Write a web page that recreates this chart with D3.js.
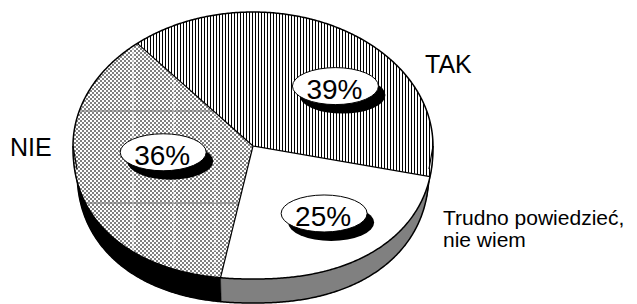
<!DOCTYPE html>
<html><head><meta charset="utf-8">
<script src="https://cdn.jsdelivr.net/npm/d3@7"></script>
<style>body{margin:0;background:#fff}svg{display:block}text{font-family:"Liberation Sans",Arial,sans-serif;fill:#000}</style>
</head><body>
<svg id="c" width="637" height="304"></svg>
<script>
// ---- data ----
const categories = ["TAK", "Trudno powiedzieć, nie wiem", "NIE"];
const values = [39, 25, 36];
const valueLabels = ["39%", "25%", "36%"];

// ---- layout / style ----
const W = 637, H = 304;
const cx = 253, cy = 146, rx = 180, ryTop = 134, ryBot = 133, nExp = 2.25;
const bcx = 253, bcy = 169, brx = 176, bry = 134;
const fills = ["url(#vl)", "#ffffff", "url(#chk)"];
const sideFills = ["#000000", "#808080", "#000000"];
const labelAdj = [{da: 15.5, r: 0.64}, {da: -5, r: 0.62}, {da: 11, r: 0.5}];
const deg = Math.PI / 180;

const svg = d3.select("#c");
const defs = svg.append("defs");
const p1 = defs.append("pattern").attr("id", "vl").attr("width", 3).attr("height", 3).attr("patternUnits", "userSpaceOnUse");
p1.append("rect").attr("width", 3).attr("height", 3).attr("fill", "#fff");
p1.append("rect").attr("width", 1).attr("height", 3).attr("fill", "#000");
const p2 = defs.append("pattern").attr("id", "chk").attr("width", 4).attr("height", 4).attr("patternUnits", "userSpaceOnUse");
p2.append("rect").attr("width", 4).attr("height", 4).attr("fill", "#fff");
p2.append("rect").attr("width", 2).attr("height", 2).attr("fill", "#808080");
p2.append("rect").attr("x", 2).attr("y", 2).attr("width", 2).attr("height", 2).attr("fill", "#808080");

function lowerY(c) { return Math.pow(Math.max(0, 1 - Math.pow(Math.abs(c), nExp)), 1 / nExp); }
function topPt(t, r = 1) {
  const c = Math.cos(t), s = Math.sin(t);
  const x = cx + r * rx * c;
  const y = s < 0 ? cy + r * ryTop * s : cy + r * ryBot * lowerY(c);
  return [x, y];
}
function botPt(t) {
  const c = Math.cos(t);
  return [bcx + brx * c, bcy + bry * lowerY(c)];
}
function samples(t1, t2) {
  const n = Math.max(2, Math.ceil(Math.abs(t2 - t1) / (0.5 * deg)));
  return d3.range(n + 1).map(i => t1 + (t2 - t1) * i / n);
}
const line = d3.line().curve(d3.curveLinear);

const pie = d3.pie().sort(null).value(d => d).startAngle(-40 * deg).endAngle(320 * deg);
const arcs = pie(values).map((a, i) => ({
  i, t1: a.startAngle - Math.PI / 2, t2: a.endAngle - Math.PI / 2, mid: (a.startAngle + a.endAngle) / 2 - Math.PI / 2
}));

// ---- sides ----
const gSide = svg.append("g");
arcs.forEach(a => {
  [[-2 * Math.PI, -Math.PI], [0, Math.PI], [2 * Math.PI, 3 * Math.PI]].forEach(([f1, f2]) => {
    const s = Math.max(a.t1, f1), e = Math.min(a.t2, f2);
    if (e > s) {
      const ts = samples(s, e);
      const pts = ts.map(t => topPt(t)).concat(ts.slice().reverse().map(t => botPt(t)));
      gSide.append("path").attr("d", line(pts) + "Z")
        .attr("fill", sideFills[a.i]).attr("stroke", sideFills[a.i]).attr("stroke-width", 0.5);
    }
  });
});
gSide.append("path").attr("d", line(samples(0, Math.PI).map(botPt)))
  .attr("fill", "none").attr("stroke", "#000").attr("stroke-width", 1.5);

// ---- top face slices ----
const gTop = svg.append("g");
arcs.forEach(a => {
  const pts = [[cx, cy]].concat(samples(a.t1, a.t2).map(t => topPt(t)));
  const d = line(pts) + "Z";
  gTop.append("clipPath").attr("id", "clip" + a.i).append("path").attr("d", d);
  gTop.append("path").attr("d", d).attr("fill", fills[a.i]).attr("stroke", "none");
});
const seams = svg.append("g").attr("clip-path", "url(#clip2)");
[cx - 120, cx - 79, cx - 38].forEach(x => {
  seams.append("line").attr("x1", x).attr("x2", x).attr("y1", 0).attr("y2", H)
    .attr("stroke", "#fff").attr("stroke-width", 1).attr("stroke-dasharray", "3,1");
});
[cy - 35, cy + 57].forEach(y => {
  seams.append("line").attr("x1", 0).attr("x2", W).attr("y1", y).attr("y2", y)
    .attr("stroke", "#666").attr("stroke-width", 1).attr("stroke-dasharray", "2,2");
});
const seams0 = svg.append("g").attr("clip-path", "url(#clip0)");
seams0.append("line").attr("x1", 0).attr("x2", W).attr("y1", cy - 35).attr("y2", cy - 35)
  .attr("stroke", "#000").attr("stroke-width", 1).attr("stroke-dasharray", "1,2");

const gLines = svg.append("g");
arcs.forEach(a => {
  gLines.append("path").attr("d", line([[cx, cy], topPt(a.t1)]))
    .attr("stroke", "#000").attr("stroke-width", 1.2).attr("fill", "none");
});
gLines.append("path").attr("d", line(samples(0, 2 * Math.PI).map(t => topPt(t))) + "Z")
  .attr("fill", "none").attr("stroke", "#000").attr("stroke-width", 1.5);
gLines.append("path").attr("d", line([topPt(0), botPt(0)])).attr("stroke", "#000").attr("stroke-width", 1.2);
gLines.append("path").attr("d", line([topPt(Math.PI), botPt(Math.PI)])).attr("stroke", "#000").attr("stroke-width", 1.2);

// ---- value labels ----
const gLab = svg.append("g");
arcs.forEach(a => {
  const adj = labelAdj[a.i];
  const [x, y] = topPt(a.mid + adj.da * deg, adj.r);
  gLab.append("ellipse").attr("cx", x + 7).attr("cy", y + 9).attr("rx", 43).attr("ry", 18.5).attr("fill", "#000");
  gLab.append("ellipse").attr("cx", x).attr("cy", y).attr("rx", 43).attr("ry", 18.5)
    .attr("fill", "#fff").attr("stroke", "#000").attr("stroke-width", 1);
  gLab.append("text").attr("x", x - 1).attr("y", y + 13).attr("text-anchor", "middle")
    .attr("font-size", 28).text(valueLabels[a.i]);
});

// ---- category labels ----
svg.append("text").attr("x", 425).attr("y", 73).attr("font-size", 25).text(categories[0]);
svg.append("text").attr("x", 10).attr("y", 156).attr("font-size", 25).text(categories[2]);
const t2 = svg.append("text").attr("x", 443).attr("y", 225).attr("font-size", 21);
t2.append("tspan").attr("x", 443).text("Trudno powiedzieć,");
t2.append("tspan").attr("x", 443).attr("dy", 22).text("nie wiem");
</script>
</body></html>
